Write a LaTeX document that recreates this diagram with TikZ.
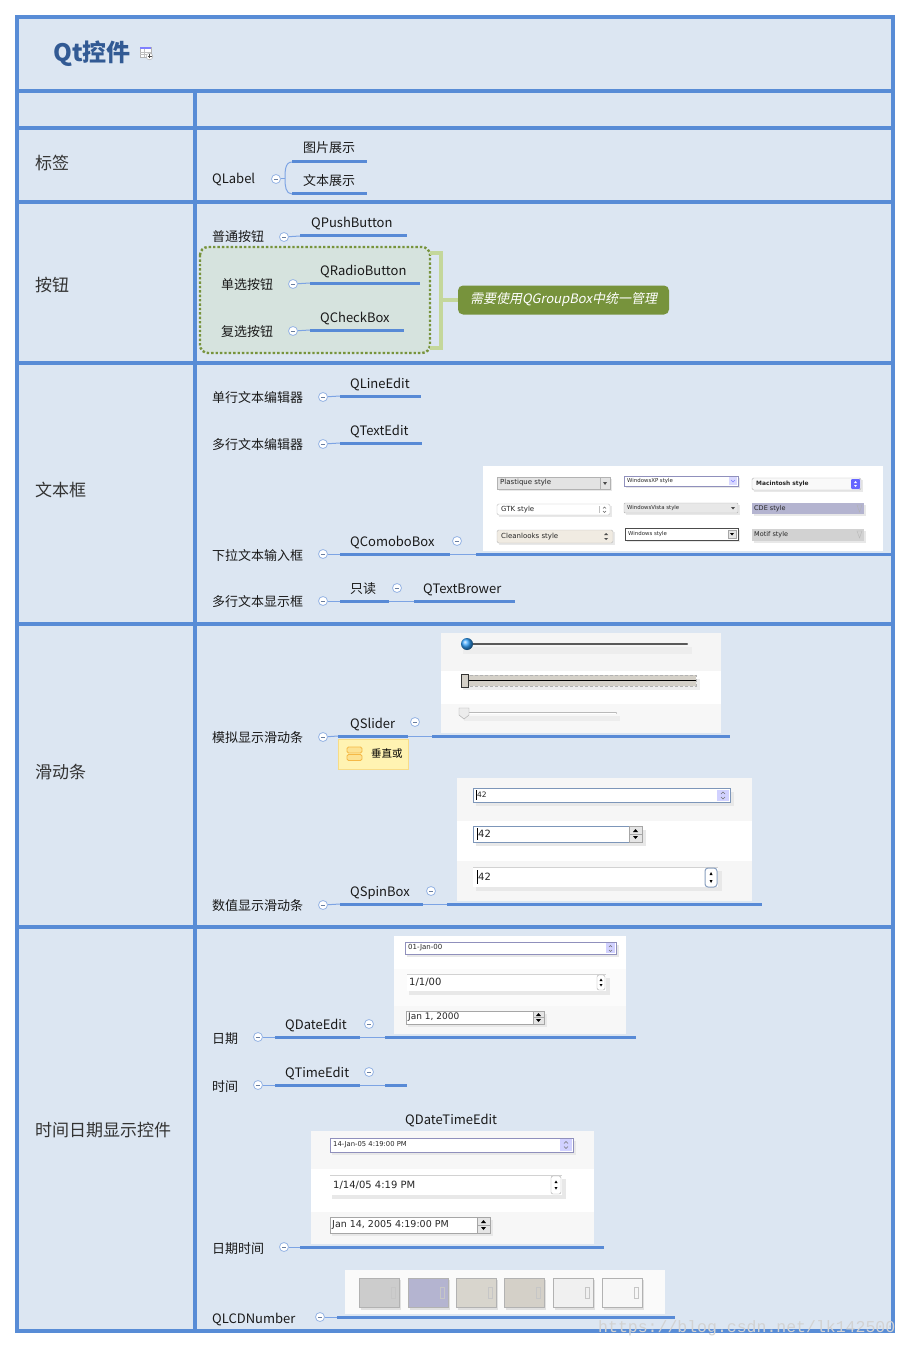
\documentclass[tikz,border=0pt]{standalone}
\usepackage{fontspec}
\setmainfont{Noto Sans CJK SC}
\newfontfamily\slantfont{Noto Sans CJK SC}[FakeSlant=0.2]
\newfontfamily\uifont{DejaVu Sans}
\newfontfamily\wmfont{Liberation Mono}
\usepackage{tikz}

\definecolor{frameblue}{RGB}{88,140,214}
\definecolor{cellfill}{RGB}{220,230,242}
\definecolor{titleblue}{RGB}{50,90,148}
\definecolor{linkblue}{RGB}{88,138,214}
\definecolor{thinblue}{RGB}{125,164,228}
\definecolor{foldblue}{RGB}{150,180,228}
\definecolor{grpfill}{RGB}{214,227,222}
\definecolor{olivegreen}{RGB}{119,147,60}
\definecolor{palegreen}{RGB}{196,215,155}
\definecolor{notefill}{RGB}{255,243,178}
\definecolor{noteedge}{RGB}{248,220,135}
\definecolor{noteicon}{RGB}{245,185,70}
\definecolor{spinblue}{RGB}{125,150,185}
\definecolor{cdefill}{RGB}{180,180,208}
\definecolor{beigefill}{RGB}{240,235,226}
\definecolor{winbeige}{RGB}{212,208,200}

\tikzset{
  lbl/.style={anchor=base west, inner sep=0pt, text=black!80,
    font=\fontsize{17}{20}\selectfont},
  txt/.style={anchor=base west, inner sep=0pt, text=black!90,
    font=\fontsize{13}{15}\selectfont},
  fold/.style={circle, draw=foldblue, fill=white, line width=0.8pt,
    minimum size=9pt, inner sep=0pt,
    path picture={\draw[foldblue!70!black, line width=0.6pt]
      ([xshift=-2.2pt]path picture bounding box.center) --
      ([xshift=2.2pt]path picture bounding box.center);}},
  branch/.style={linkblue, line width=3pt},
  twig/.style={thinblue, line width=1pt},
  ui/.style={anchor=west, inner sep=0pt, text=black!85,
    font=\uifont\fontsize{7}{8}\selectfont},
  uitiny/.style={ui, font=\uifont\fontsize{5.4}{6}\selectfont},
  lowshadow/.style={fill=black!9},
  tipbox/.style={fill=olivegreen, rounded corners=5pt, text=white,
    minimum width=211pt, minimum height=29pt, inner sep=0pt,
    font=\slantfont\fontsize{13}{15}\selectfont},
  bracket/.style={palegreen, line width=4.5pt},
}

\begin{document}
\begin{tikzpicture}[x=1pt,y=-1pt]
    \useasboundingbox[fill=white] (0,0) rectangle (910,1348);

    % table frame
    \fill[cellfill] (17,17) rectangle (893,1331);
    \draw[frameblue, line width=4.5pt] (17,17) rectangle (893,1331);
    \foreach \y in {91,128,202,363,624,927}
        \draw[frameblue, line width=4.5pt] (17,\y) -- (893,\y);
    \draw[frameblue, line width=4.5pt] (195,91) -- (195,1331);

    % title + icon
    \node[anchor=base west, inner sep=0pt, text=titleblue,
        font=\fontsize{24}{28}\selectfont\bfseries] (title) at (53,62) {Qt控件};
    \draw[gray!60, fill=white] (140,47) rectangle (151,57);
    \fill[blue!50] (140,47) rectangle (151,49.5);
    \draw[gray!50, line width=0.4pt] (140,52) -- (151,52) (140,54.5) -- (151,54.5) (144,49.5) -- (144,57);
    \draw[gray!70, fill=white] (149.5,56.5) circle (3.3);
    \draw[black!70, line width=0.5pt] (147.5,56.5) -- (151.5,56.5) (149.5,54.5) -- (149.5,58.5);

    % row labels
    \node[lbl] (r-label) at (35,170) {标签};
    \node[lbl] (r-button) at (35,291) {按钮};
    \node[lbl] (r-text) at (35,496) {文本框};
    \node[lbl] (r-slider) at (35,778) {滑动条};
    \node[lbl] (r-date) at (35,1136) {时间日期显示控件};

    % QLabel
    \node[txt] (qlabel) at (212,184) {QLabel};
    \node[fold] (f-qlabel) at (276,179) {};
    \coordinate (brace) at (285,179);
    \coordinate (pic-a) at (292,162); \coordinate (pic-b) at (367,162);
    \coordinate (plain-a) at (292,194); \coordinate (plain-b) at (367,194);
    \node[txt] (pic) at (303,153) {图片展示};
    \node[txt] (plain) at (303,186) {文本展示};
    \draw[twig] (f-qlabel) -- (brace);
    \draw[twig] (pic-a) to[out=180,in=90] (brace) to[out=-90,in=180] (plain-a);
    \draw[branch] (pic-a) -- (pic-b);
    \draw[branch] (plain-a) -- (plain-b);

    % buttons
    \node[txt] (push) at (212,242) {普通按钮};
    \node[fold] (f-push) at (284,237) {};
    \coordinate (push-a) at (300,236); \coordinate (push-b) at (407,236);
    \node[txt] (qpush) at (311,228) {QPushButton};
    \draw[twig] (f-push) -- (push-a);
    \draw[branch] (push-a) -- (push-b);

    \draw[olivegreen, line width=2.4pt, dotted, fill=grpfill, rounded corners=8pt]
        (200,247) rectangle (430,353);
    \node[txt] (radio) at (221,289) {单选按钮};
    \node[fold] (f-radio) at (293,284) {};
    \coordinate (radio-a) at (310,283); \coordinate (radio-b) at (420,283);
    \node[txt] (qradio) at (320,275) {QRadioButton};
    \draw[twig] (f-radio) -- (radio-a);
    \draw[branch] (radio-a) -- (radio-b);
    \node[txt] (check) at (221,336) {复选按钮};
    \node[fold] (f-check) at (293,331) {};
    \coordinate (check-a) at (310,330); \coordinate (check-b) at (404,330);
    \node[txt] (qcheck) at (320,322) {QCheckBox};
    \draw[twig] (f-check) -- (check-a);
    \draw[branch] (check-a) -- (check-b);

    \coordinate (brk-t) at (430,253); \coordinate (brk-b) at (430,348);
    \coordinate (brk-m) at (441,300);
    \node[tipbox] (tip) at (563.5,300) {需要使用QGroupBox中统一管理};
    \draw[bracket] (brk-t) -- ++(11,0) |- (brk-b);
    \draw[bracket] (brk-m) -- (tip.west);

    % text boxes
    \node[txt] (single) at (212,402) {单行文本编辑器};
    \node[fold] (f-single) at (323,397) {};
    \coordinate (le-a) at (340,396); \coordinate (le-b) at (421,396);
    \node[txt] (qline) at (350,388) {QLineEdit};
    \draw[twig] (f-single) -- (le-a);
    \draw[branch] (le-a) -- (le-b);
    \node[txt] (multi) at (212,449) {多行文本编辑器};
    \node[fold] (f-multi) at (323,444) {};
    \coordinate (te-a) at (340,443); \coordinate (te-b) at (422,443);
    \node[txt] (qtext) at (350,435) {QTextEdit};
    \draw[twig] (f-multi) -- (te-a);
    \draw[branch] (te-a) -- (te-b);

    % combo box screenshot
    \fill[white] (483,466) rectangle (883,551);
    \fill[lowshadow] (499,479) rectangle (612,491);
    \draw[gray!60, fill=gray!22] (497,477) rectangle (610,489);
    \draw[gray!60] (600,477) -- (600,489);
    \fill[black!70] (603,482) -- (607,482) -- (605,485) -- cycle;
    \node[ui] (cb-plast) at (500,483) {Plastique style};
    \fill[lowshadow] (626,478) rectangle (740,488);
    \draw[blue!25!gray!70, fill=white] (624,476) rectangle (738,486);
    \fill[blue!15] (729,477) rectangle (737,485);
    \draw[blue!50, line width=0.5pt] (731,480) -- (733,482) -- (735,480);
    \node[uitiny] (cb-xp) at (627,481) {WindowsXP style};
    \fill[lowshadow] (754,480) rectangle (863,492);
    \draw[gray!60, fill=gray!5, rounded corners=1.5pt] (752,478) rectangle (861,490);
    \fill[blue!60, rounded corners=1pt] (851,479) rectangle (860,489);
    \fill[white] (854,483) -- (857,483) -- (855.5,481) -- cycle (854,485) -- (857,485) -- (855.5,487) -- cycle;
    \node[ui, font=\uifont\bfseries\fontsize{5.9}{7}\selectfont] (cb-mac) at (756,484) {Macintosh style};
    \fill[lowshadow] (499,506) rectangle (612,517);
    \draw[gray!50, fill=white, rounded corners=1.5pt] (497,504) rectangle (610,515);
    \draw[gray!50] (599,506) -- (599,513);
    \draw[black!60, line width=0.4pt] (603,508.5) -- (604.5,507) -- (606,508.5) (603,511) -- (604.5,512.5) -- (606,511);
    \node[ui] (cb-gtk) at (501,509.5) {GTK style};
    \fill[lowshadow] (626,505) rectangle (740,515);
    \draw[gray!60, fill=gray!18, rounded corners=1pt] (624,503) rectangle (738,513);
    \fill[black!70] (731,507) -- (735,507) -- (733,509.5) -- cycle;
    \node[uitiny] (cb-vista) at (627,508) {WindowsVista style};
    \fill[lowshadow] (754,505) rectangle (866,516);
    \fill[cdefill] (752,503) rectangle (864,514);
    \draw[gray!60] (857,505) -- (862,505) -- (859.5,512) -- cycle;
    \node[ui, font=\uifont\fontsize{6.5}{8}\selectfont] (cb-cde) at (754,508.5) {CDE style};
    \fill[lowshadow] (499,532) rectangle (615,545);
    \draw[gray!55, fill=beigefill, rounded corners=1.5pt] (497,530) rectangle (613,543);
    \fill[black!70] (604,535) -- (608,535) -- (606,533) -- cycle (604,538) -- (608,538) -- (606,540) -- cycle;
    \node[ui] (cb-clean) at (501,536.5) {Cleanlooks style};
    \fill[lowshadow] (627,530) rectangle (740,542);
    \draw[black!70, fill=white] (625,528) rectangle (738,540);
    \draw[gray!70, fill=gray!20] (728,530) rectangle (736,538);
    \fill[black] (730,533) -- (734,533) -- (732,535.5) -- cycle;
    \node[uitiny] (cb-win) at (628,534) {Windows style};
    \fill[lowshadow] (754,531) rectangle (866,543);
    \fill[gray!35] (752,529) rectangle (864,541);
    \draw[gray!55] (857,531) -- (862,531) -- (859.5,538) -- cycle;
    \node[ui, font=\uifont\fontsize{6.5}{8}\selectfont] (cb-motif) at (754,535) {Motif style};

    \node[txt] (dropdown) at (212,560) {下拉文本输入框};
    \node[fold] (f-dropdown) at (323,554) {};
    \coordinate (cb-a) at (340,554); \coordinate (cb-b) at (450,554);
    \coordinate (cb-c) at (476,554); \coordinate (cb-d) at (891,554);
    \node[txt] (qcombo) at (350,546) {QComoboBox};
    \node[fold] (f-qcombo) at (457,541) {};
    \draw[twig] (f-dropdown) -- (cb-a);
    \draw[branch] (cb-a) -- (cb-b);
    \draw[twig] (cb-b) -- (cb-c);
    \draw[branch] (cb-c) -- (cb-d);

    \node[txt] (show) at (212,606) {多行文本显示框};
    \node[fold] (f-show) at (323,601) {};
    \coordinate (ro-a) at (340,601); \coordinate (ro-b) at (389,601);
    \coordinate (tb-a) at (414,601); \coordinate (tb-b) at (515,601);
    \node[txt] (ronly) at (350,593) {只读};
    \node[fold] (f-ronly) at (397,588) {};
    \node[txt] (qbrowser) at (423,593) {QTextBrower};
    \draw[twig] (f-show) -- (ro-a);
    \draw[branch] (ro-a) -- (ro-b);
    \draw[twig] (ro-b) -- (tb-a);
    \draw[branch] (tb-a) -- (tb-b);

    % slider screenshot
    \fill[gray!8] (441,633) rectangle (721,671);
    \fill[white] (441,671) rectangle (721,704);
    \fill[gray!6] (441,704) rectangle (721,733);
    \fill[black!7] (463,647) rectangle (692,654);
    \draw[black!65, line width=2pt, line cap=round] (465,644) -- (687,644);
    \shade[ball color=blue!45!cyan!80] (467,644) circle (6);
    \fill[black!7] (463,679) rectangle (700,690);
    \draw[gray!60, densely dashed, fill=winbeige] (461,675) rectangle (696,686);
    \draw[black, line width=1.2pt] (468,680.5) -- (696,680.5);
    \draw[black!80, fill=winbeige] (461,674) rectangle (468,687);
    \fill[black!7] (464,716) rectangle (620,721);
    \draw[gray!55, line width=2.4pt, line cap=round] (464,713) -- (616,713);
    \draw[white, line width=0.8pt] (464,713) -- (616,713);
    \draw[gray!70, fill=gray!15] (459,708) -- (469,708) -- (469,715) -- (464,719) -- (459,715) -- cycle;

    \node[txt] (analog) at (212,742) {模拟显示滑动条};
    \node[fold] (f-analog) at (323,737) {};
    \coordinate (sl-a) at (338,736); \coordinate (sl-b) at (408,736);
    \coordinate (sl-c) at (432,736); \coordinate (sl-d) at (730,736);
    \node[txt] (qslider) at (350,728) {QSlider};
    \node[fold] (f-qslider) at (415,722) {};
    \draw[twig] (f-analog) -- (sl-a);
    \draw[branch] (sl-a) -- (sl-b);
    \draw[twig] (sl-b) -- (sl-c);
    \draw[branch] (sl-c) -- (sl-d);

    % note under QSlider
    \draw[noteedge, fill=notefill] (338,739) rectangle (408,769);
    \draw[noteicon, fill=notefill!70!noteicon, rounded corners=1.5pt, line width=0.8pt]
        (347,747) rectangle (362,753) (347,754.5) rectangle (362,760.5);
    \node[anchor=west, inner sep=0pt, font=\fontsize{10.5}{12}\selectfont] (note) at (371,754) {垂直或};

    % spin box screenshot
    \fill[gray!7] (457,778) rectangle (752,821);
    \fill[white] (457,821) rectangle (752,861);
    \fill[gray!7] (457,861) rectangle (752,901);
    \fill[lowshadow] (476,792) rectangle (734,806);
    \draw[spinblue, fill=white] (473,788) rectangle (730,802);
    \fill[blue!18] (717,789.5) rectangle (729,801);
    \draw[black!55, line width=0.4pt] (721,794) -- (723,792) -- (725,794) (721,797) -- (723,799) -- (725,797);
    \draw[black] (476,790) -- (476,800);
    \node[ui, font=\uifont\fontsize{7.5}{8}\selectfont] (spin1) at (477,795) {42};
    \fill[lowshadow] (476,830) rectangle (646,846);
    \draw[spinblue, line width=0.9pt, fill=white] (473,826) rectangle (629,842);
    \draw[gray!70, fill=gray!20] (629,826) rectangle (642,834) (629,834) rectangle (642,842);
    \fill[black] (633,832) -- (638,832) -- (635.5,829) -- cycle (633,836) -- (638,836) -- (635.5,839) -- cycle;
    \draw[black, line width=0.8pt] (477,828) -- (477,840);
    \node[ui, font=\uifont\fontsize{10}{11}\selectfont] (spin2) at (478,834) {42};
    \fill[lowshadow] (476,871) rectangle (722,891);
    \fill[white] (473,867) rectangle (718,887);
    \draw[gray!35] (473,867) -- (718,867);
    \draw[spinblue!90, line width=1pt, fill=white, rounded corners=3pt] (705,868) rectangle (717,887);
    \fill[black] (709.5,875) -- (712.5,875) -- (711,872) -- cycle (709.5,880) -- (712.5,880) -- (711,883) -- cycle;
    \draw[black, line width=0.8pt] (477,870) -- (477,884);
    \node[ui, font=\uifont\fontsize{10}{11}\selectfont] (spin3) at (478,877) {42};

    \node[txt] (digit) at (212,910) {数值显示滑动条};
    \node[fold] (f-digit) at (323,905) {};
    \coordinate (sp-a) at (340,904); \coordinate (sp-b) at (423,904);
    \coordinate (sp-c) at (447,904); \coordinate (sp-d) at (762,904);
    \node[txt] (qspin) at (350,896) {QSpinBox};
    \node[fold] (f-qspin) at (431,891) {};
    \draw[twig] (f-digit) -- (sp-a);
    \draw[branch] (sp-a) -- (sp-b);
    \draw[twig] (sp-b) -- (sp-c);
    \draw[branch] (sp-c) -- (sp-d);

    % date edit screenshot
    \fill[white] (394,936) rectangle (626,969);
    \fill[gray!3] (394,969) rectangle (626,1006);
    \fill[gray!6] (394,1006) rectangle (626,1034);
    \fill[lowshadow] (407,945) rectangle (619,957);
    \draw[blue!25!gray!70, fill=white] (405,942) rectangle (616,954);
    \fill[blue!18] (606,943) rectangle (615,953);
    \draw[black!55, line width=0.4pt] (609,947) -- (610.5,945.5) -- (612,947) (609,950) -- (610.5,951.5) -- (612,950);
    \node[ui] (de1) at (408,948) {01-Jan-00};
    \fill[lowshadow] (409,978) rectangle (610,995);
    \fill[white] (407,974) rectangle (606,991);
    \draw[gray!35] (407,974) -- (606,974);
    \draw[gray!70, fill=white, rounded corners=2pt] (597,975) rectangle (605,990);
    \fill[black] (599.5,981) -- (602.5,981) -- (601,978.5) -- cycle (599.5,984) -- (602.5,984) -- (601,986.5) -- cycle;
    \node[ui, font=\uifont\fontsize{10}{11}\selectfont] (de2) at (409,982.5) {1/1/00};
    \fill[lowshadow] (408,1014) rectangle (547,1027);
    \draw[gray!70, fill=white] (406,1011) rectangle (544,1024);
    \draw[gray!70, fill=gray!20] (533,1011) rectangle (544,1017.5) (533,1017.5) rectangle (544,1024);
    \fill[black] (536,1016) -- (541,1016) -- (538.5,1013) -- cycle (536,1019) -- (541,1019) -- (538.5,1022) -- cycle;
    \node[ui, font=\uifont\fontsize{9}{10}\selectfont] (de3) at (408,1017.5) {Jan 1, 2000};

    \node[txt] (date) at (212,1043) {日期};
    \node[fold] (f-date) at (258,1037) {};
    \coordinate (de-a) at (275,1037); \coordinate (de-b) at (360,1037);
    \coordinate (de-c) at (385,1037); \coordinate (de-d) at (636,1037);
    \node[txt] (qdate) at (285,1029) {QDateEdit};
    \node[fold] (f-qdate) at (369,1024) {};
    \draw[twig] (f-date) -- (de-a);
    \draw[branch] (de-a) -- (de-b);
    \draw[twig] (de-b) -- (de-c);
    \draw[branch] (de-c) -- (de-d);

    \node[txt] (time) at (212,1091) {时间};
    \node[fold] (f-time) at (258,1085) {};
    \coordinate (ti-a) at (275,1085); \coordinate (ti-b) at (360,1085);
    \coordinate (ti-c) at (385,1085); \coordinate (ti-d) at (407,1085);
    \node[txt] (qtime) at (285,1077) {QTimeEdit};
    \node[fold] (f-qtime) at (369,1072) {};
    \draw[twig] (f-time) -- (ti-a);
    \draw[branch] (ti-a) -- (ti-b);
    \draw[twig] (ti-b) -- (ti-c);
    \draw[branch] (ti-c) -- (ti-d);

    \node[txt] (qdatetime) at (405,1124) {QDateTimeEdit};

    % date time edit screenshot
    \fill[gray!6] (311,1131) rectangle (594,1169);
    \fill[white] (311,1169) rectangle (594,1212);
    \fill[gray!6] (311,1212) rectangle (594,1244);
    \fill[lowshadow] (332,1141) rectangle (576,1155);
    \draw[blue!25!gray!70, fill=white] (330,1138) rectangle (573,1152);
    \fill[blue!18] (560,1139) rectangle (572,1151);
    \draw[black!55, line width=0.4pt] (564,1143.5) -- (566,1141.5) -- (568,1143.5) (564,1146.5) -- (566,1148.5) -- (568,1146.5);
    \node[ui, font=\uifont\fontsize{6.8}{8}\selectfont] (dt1) at (333,1145) {14-Jan-05 4:19:00 PM};
    \fill[lowshadow] (332,1179) rectangle (566,1199);
    \fill[white] (330,1175) rectangle (562,1195);
    \draw[gray!35] (330,1175) -- (562,1175);
    \draw[gray!70, fill=white, rounded corners=2pt] (551,1176) rectangle (561,1194);
    \fill[black] (554.5,1183) -- (557.5,1183) -- (556,1180.5) -- cycle (554.5,1187) -- (557.5,1187) -- (556,1189.5) -- cycle;
    \node[ui, font=\uifont\fontsize{10}{11}\selectfont] (dt2) at (333,1185.5) {1/14/05 4:19 PM};
    \fill[lowshadow] (332,1220) rectangle (493,1236);
    \draw[gray!70, fill=white] (330,1217) rectangle (490,1233);
    \draw[gray!70, fill=gray!20] (477,1217) rectangle (490,1225) (477,1225) rectangle (490,1233);
    \fill[black] (481,1223) -- (486,1223) -- (483.5,1220) -- cycle (481,1227) -- (486,1227) -- (483.5,1230) -- cycle;
    \node[ui, font=\uifont\fontsize{9.5}{10}\selectfont] (dt3) at (332,1225) {Jan 14, 2005 4:19:00 PM};

    \node[txt] (datetime) at (212,1253) {日期时间};
    \node[fold] (f-datetime) at (284,1247) {};
    \coordinate (dt-a) at (300,1247); \coordinate (dt-b) at (604,1247);
    \draw[twig] (f-datetime) -- (dt-a);
    \draw[branch] (dt-a) -- (dt-b);

    % lcd screenshot
    \fill[gray!4] (345,1270) rectangle (665,1314);
    \foreach \x/\c in {359/gray!40, 408/cdefill, 456/winbeige!90, 504/winbeige, 553/gray!12, 602/gray!6} {
        \fill[black!12] (\x+2,1280) rectangle (\x+42,1310);
        \draw[gray!60, fill=\c] (\x,1278) rectangle (\x+40,1307);
        \draw[gray!45, line width=0.7pt] (\x+32,1287) rectangle (\x+36,1298);
    }

    \node[txt] (lcd) at (212,1323) {QLCDNumber};
    \node[fold] (f-lcd) at (320,1317) {};
    \coordinate (lcd-a) at (337,1317); \coordinate (lcd-b) at (675,1317);
    \draw[twig] (f-lcd) -- (lcd-a);
    \draw[branch] (lcd-a) -- (lcd-b);

    % watermark
    \node[anchor=west, inner sep=0pt, text=gray!35, font=\wmfont\fontsize{16.5}{18}\selectfont]
        (wm) at (598,1328) {https://blog.csdn.net/lk142500};
\end{tikzpicture}
\end{document}
